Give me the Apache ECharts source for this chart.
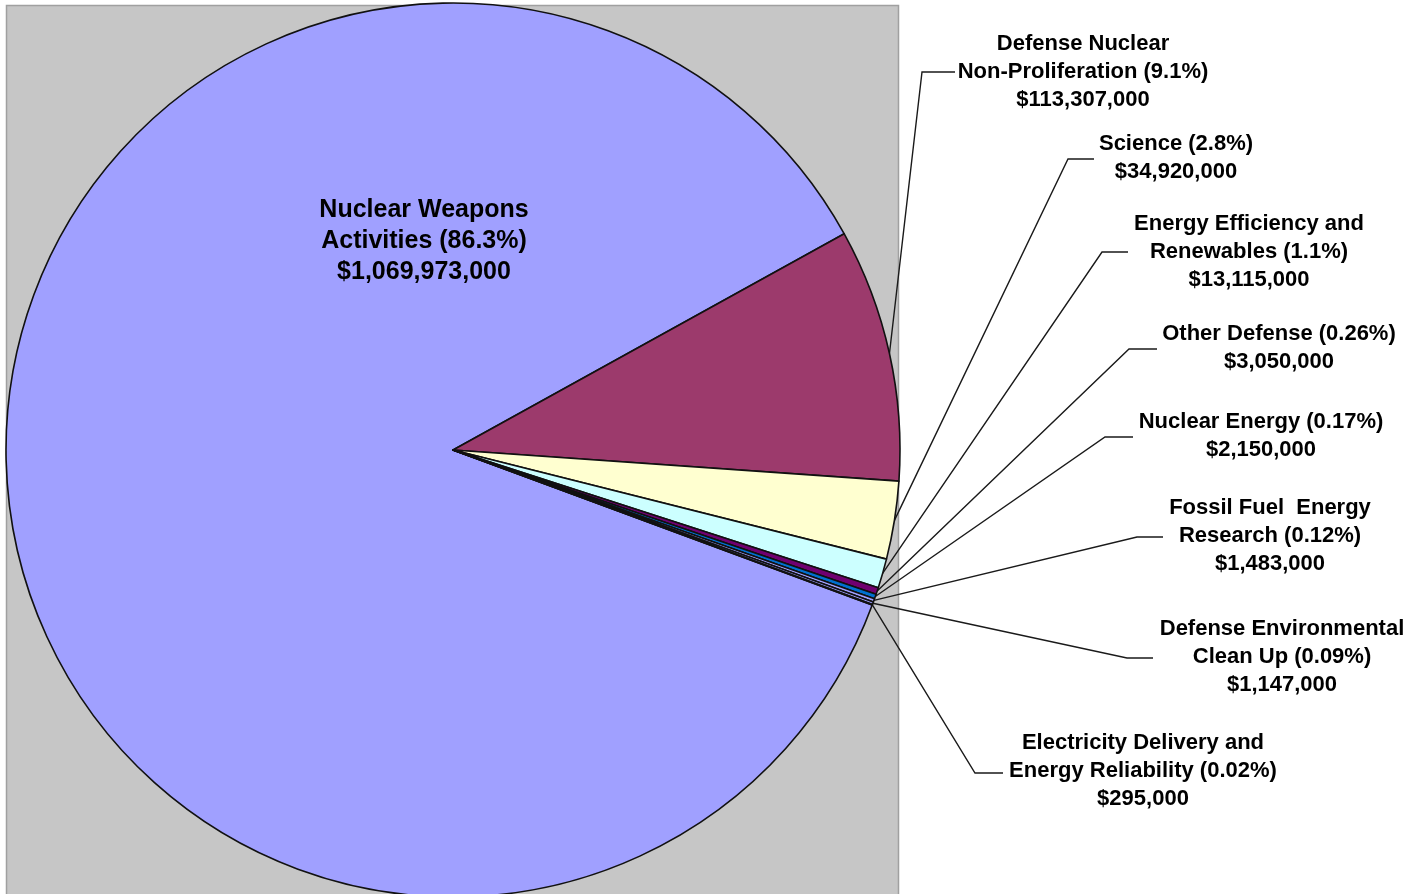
<!DOCTYPE html>
<html>
<head>
<meta charset="utf-8">
<script src="https://cdn.jsdelivr.net/npm/echarts@6/dist/echarts.min.js"></script>
<style>
html,body{margin:0;padding:0;background:#fff;}
#chart{width:1424px;height:894px;}
</style>
</head>
<body>
<div id="chart"></div>
<script>
// ---- data ----
const categories = [
  "Nuclear Weapons\nActivities",
  "Defense Nuclear\nNon-Proliferation",
  "Science",
  "Energy Efficiency and\nRenewables",
  "Other Defense",
  "Nuclear Energy",
  "Fossil Fuel  Energy\nResearch",
  "Defense Environmental\nClean Up",
  "Electricity Delivery and\nEnergy Reliability"
];
const values = [1069973000, 113307000, 34920000, 13115000, 3050000, 2150000, 1483000, 1147000, 295000];
const pctLabels = ["86.3%", "9.1%", "2.8%", "1.1%", "0.26%", "0.17%", "0.12%", "0.09%", "0.02%"];

// ---- styles / layout ----
const colors = ["#A0A0FF", "#9C3A6C", "#FFFFD0", "#CCFFFF", "#700070", "#0070D0", "#A0A0FF", "#A0A0FF", "#A0A0FF"];
const labelPos = [[424,241],[1083,72],[1176,158],[1249,252],[1279,348],[1261,436],[1270,536],[1282,657],[1143,771]];
const elbows = [null,[922,72],[1068,159],[1102,252],[1129,349],[1105,437],[1137,537],[1127,658],[975,773]];
const ends = [null,[955,72],[1094,159],[1128,252],[1157,349],[1133,437],[1163,537],[1153,658],[1003,773]];

function money(v){ return '$' + v.toLocaleString('en-US'); }

const chart = echarts.init(document.getElementById('chart'));
const seriesData = categories.map((c, i) => {
  const item = { name: c, value: values[i], itemStyle: { color: colors[i] } };
  if (i === 0) {
    item.label = { fontSize: 25, lineHeight: 31 };
    item.labelLine = { show: false };
  }
  return item;
});

chart.setOption({
  animation: false,
  backgroundColor: '#ffffff',
  graphic: [{
    type: 'rect', z: -10,
    shape: { x: 6.5, y: 5.5, width: 892, height: 900 },
    style: { fill: '#C6C6C6', stroke: '#A0A0A0', lineWidth: 1.5 }
  }],
  series: [{
    type: 'pie',
    center: [453, 450],
    radius: 447,
    startAngle: 339.7,
    clockwise: true,
    avoidLabelOverlap: false,
    emphasis: { disabled: true },
    itemStyle: { borderColor: '#111', borderWidth: 1.6 },
    label: {
      show: true,
      position: 'outside',
      color: '#000',
      fontFamily: '"Liberation Sans", Arial, sans-serif',
      fontWeight: 'bold',
      fontSize: 22,
      lineHeight: 28,
      align: 'center',
      formatter: p => {
        const i = p.dataIndex;
        return categories[i] + ' (' + pctLabels[i] + ')\n' + money(values[i]);
      }
    },
    labelLine: { show: true, lineStyle: { color: '#1a1a1a', width: 1.4 } },
    labelLayout: params => {
      const i = params.dataIndex;
      const out = { x: labelPos[i][0], y: labelPos[i][1], align: 'center', verticalAlign: 'middle' };
      if (elbows[i] && params.labelLinePoints) {
        out.labelLinePoints = [params.labelLinePoints[0], elbows[i], ends[i]];
      }
      return out;
    },
    data: seriesData
  }]
});
</script>
</body>
</html>
